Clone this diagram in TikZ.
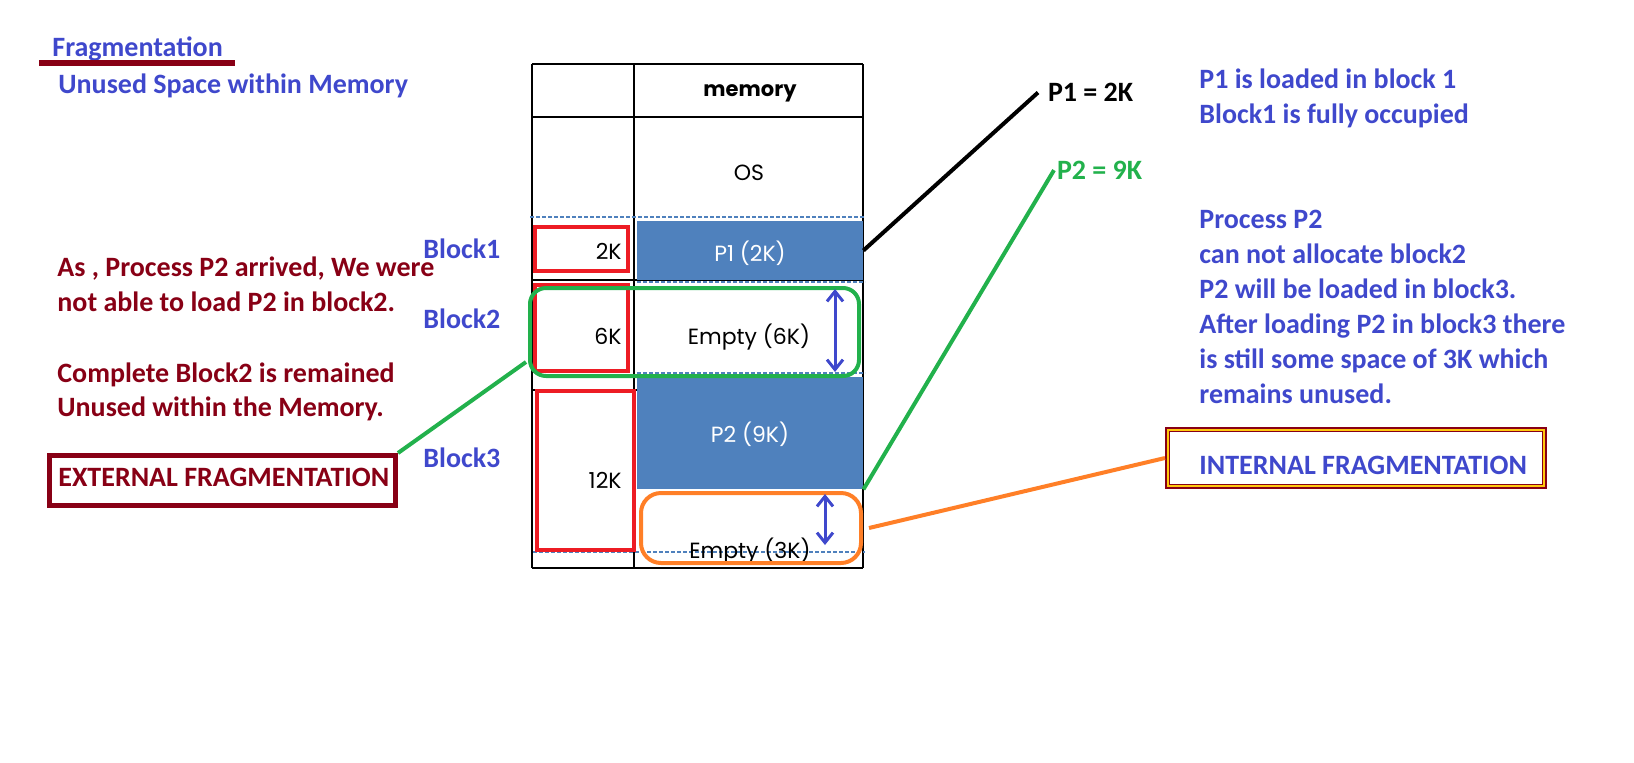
\documentclass[tikz,border=0pt]{standalone}
\usepackage{fontspec}
\setmainfont{Carlito}
\newfontfamily\gothic{Poppins}
\usetikzlibrary{arrows.meta}
\definecolor{tblue}{RGB}{63,72,204}
\definecolor{dred}{RGB}{136,0,21}
\definecolor{pred}{RGB}{237,28,36}
\definecolor{pgreen}{RGB}{34,177,76}
\definecolor{porange}{RGB}{255,127,39}
\definecolor{fblue}{RGB}{79,129,189}
\definecolor{pyellow}{RGB}{255,201,14}
\begin{document}
\begin{tikzpicture}[x=0.5pt,y=-0.5pt,
  txt/.style={inner sep=0pt, font=\bfseries\fontsize{14}{16}\selectfont},
  blu/.style={txt, text=tblue},
  drd/.style={txt, text=dred},
  cell/.style={inner sep=0pt, font=\gothic\fontsize{11}{13}\selectfont},
  tline/.style={black, line width=1pt},
  dotl/.style={fblue, line width=1pt, dash pattern=on 2pt off 1pt},
  fillbox/.style={fill=fblue, draw=none, inner sep=0pt},
  redbox/.style={draw=pred, line width=2pt, inner sep=0pt},
  fragbox/.style={draw=dred, line width=2.5pt, inner sep=0pt},
  barrow/.style={tblue, line width=1.5pt, {Straight Barb[length=5pt,width=8pt]}-{Straight Barb[length=5pt,width=8pt]}}
]
\useasboundingbox (0,0) rectangle (1634,762);

% title
\node[blu, anchor=base west] (title) at (52,56.7) {Fragmentation};
\draw[dred, line width=3pt] (39,63) -- (235,63);
\node[blu, anchor=base west] (sub) at (58,93.3) {Unused Space within Memory};

% table grid
\draw[tline] (532,64) -- (863,64);
\draw[tline] (532,117) -- (863,117);
\draw[tline] (532,280) -- (863,280);
\draw[tline] (532,390) -- (863,390);
\draw[tline] (532,568) -- (863,568);
\draw[tline] (532,64) -- (532,568);
\draw[tline] (634,64) -- (634,568);
\draw[tline] (863,64) -- (863,568);

% filled process blocks
\node[fillbox, minimum width=113pt, minimum height=29.5pt] (p1) at (750,250.5) {};
\node[fillbox, minimum width=113pt, minimum height=56pt] (p2) at (750,433) {};

% dotted boundaries
\draw[dotl] (530,217) -- (865,217);
\draw[dotl] (637,282) -- (865,282);
\draw[dotl] (637,373) -- (865,373);
\draw[dotl] (533,552) -- (865,552);

% red block boxes
\node[redbox, minimum width=46.5pt, minimum height=22pt] (r1) at (581.5,249) {};
\node[redbox, minimum width=46.5pt, minimum height=43pt] (r2) at (581.5,328) {};
\node[redbox, minimum width=48.5pt, minimum height=79.5pt] (r3) at (585.5,470.5) {};

% table texts
\node[cell, font=\gothic\bfseries\fontsize{10.5}{13}\selectfont, anchor=base] (hdr) at (750,96.7) {memory};
\node[cell, anchor=base] (os) at (749,180.7) {OS};
\node[cell, anchor=base east] (k2) at (622,259) {2K};
\node[cell, anchor=base, text=white] (t1) at (750,261) {P1 (2K)};
\node[cell, anchor=base east] (k6) at (622,344) {6K};
\node[cell, anchor=base] (e6) at (749,344) {Empty (6K)};
\node[cell, anchor=base east] (k12) at (622,488) {12K};
\node[cell, anchor=base, text=white] (t2) at (750,442) {P2 (9K)};
\node[cell, anchor=base] (e3) at (750,558) {Empty (3K)};

% highlight rounded boxes
\node[draw=pgreen, line width=2pt, rounded corners=8pt, minimum width=164.5pt, minimum height=44pt, inner sep=0pt] (g6) at (694.5,332) {};
\node[draw=porange, line width=2pt, rounded corners=10pt, minimum width=110pt, minimum height=35pt, inner sep=0pt] (o3) at (751,528) {};

% gap arrows
\coordinate (a2t) at (835,289);
\coordinate (a2b) at (835,372);
\coordinate (a3t) at (825,494);
\coordinate (a3b) at (825,545);
\draw[barrow] (a2t) -- (a2b);
\draw[barrow] (a3t) -- (a3b);

% block labels
\node[blu, anchor=base west] (b1) at (423,258) {Block1};
\node[blu, anchor=base west] (b2) at (423,328) {Block2};
\node[blu, anchor=base west] (b3) at (423,467) {Block3};

% left explanation
\node[drd, anchor=base west] (l1) at (57,276) {As , Process P2 arrived, We were};
\node[drd, anchor=base west] (l2) at (57,311) {not able to load P2 in block2.};
\node[drd, anchor=base west] (l3) at (57,382) {Complete Block2 is remained};
\node[drd, anchor=base west] (l4) at (57,416) {Unused within the Memory.};

% external fragmentation box
\node[fragbox, minimum width=173pt, minimum height=25pt] (extbox) at (222.5,480.5) {};
\node[drd, anchor=base west] (exttxt) at (58,486.7) {EXTERNAL FRAGMENTATION};

% process size labels
\node[txt, anchor=base west, outer sep=5pt] (p1lbl) at (1038,101.7) {P1 = 2K};
\node[txt, text=pgreen, anchor=base west, outer sep=1.5pt] (p2lbl) at (1054,179.3) {P2 = 9K};

% right explanation
\node[blu, anchor=base west] (r1a) at (1199,88.3) {P1 is loaded in block 1};
\node[blu, anchor=base west] (r1b) at (1199,123.3) {Block1 is fully occupied};
\node[blu, anchor=base west] (r2a) at (1199,228.3) {Process P2};
\node[blu, anchor=base west] (r2b) at (1199,263.3) {can not allocate block2};
\node[blu, anchor=base west] (r2c) at (1199,298.3) {P2 will be loaded in block3.};
\node[blu, anchor=base west] (r2d) at (1199,333.3) {After loading P2 in block3 there};
\node[blu, anchor=base west] (r2e) at (1199,368.3) {is still some space of 3K which};
\node[blu, anchor=base west] (r2f) at (1199,403.3) {remains unused.};

% internal fragmentation box
\node[fragbox, minimum width=188.5pt, minimum height=28.5pt] (intbox) at (1356,458) {};
\draw[pyellow, line width=0.6pt] ([shift={(3,3)}]intbox.north west) rectangle ([shift={(-3,-3)}]intbox.south east);
\node[blu, anchor=base west] (inttxt) at (1199,474) {INTERNAL FRAGMENTATION};

% connectors
\coordinate (gx) at (526,362);
\draw[black, line width=2pt] (p1.east) -- (p1lbl.west);
\draw[pgreen, line width=2pt] (p2.south east) -- (p2lbl.west);
\draw[porange, line width=2pt] ([xshift=3pt]o3.east) -- (intbox.west);
\draw[pgreen, line width=2pt] (extbox.north east) -- (gx);
\end{tikzpicture}
\end{document}
